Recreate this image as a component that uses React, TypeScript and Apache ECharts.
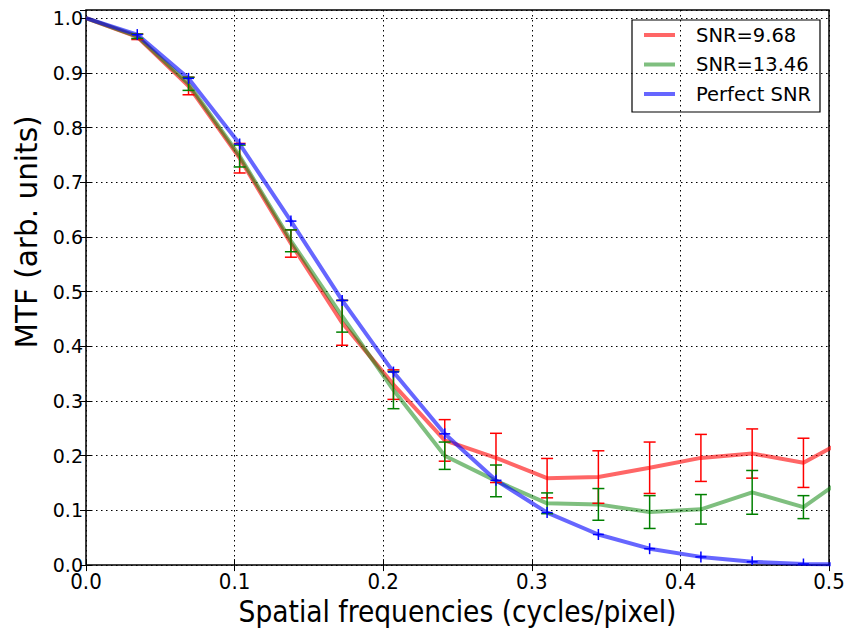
import React, { useEffect, useRef } from "react";
import * as echarts from "echarts";

// Spatial frequencies (cycles/pixel)
const frequencies = [
  0, 0.0345, 0.069, 0.1034, 0.1379, 0.1724, 0.2069, 0.2414, 0.2759, 0.3103,
  0.3448, 0.3793, 0.4138, 0.4483, 0.4828, 0.5172,
];

// SNR = 9.68
const mtfSnr968 = [
  1.0, 0.966, 0.876, 0.744, 0.588, 0.443, 0.33, 0.228, 0.196, 0.159, 0.161,
  0.178, 0.196, 0.204, 0.187, 0.238,
];
const errSnr968 = [
  0, 0.005, 0.016, 0.027, 0.025, 0.041, 0.027, 0.038, 0.045, 0.036, 0.048,
  0.047, 0.043, 0.045, 0.045, 0.045,
];

// SNR = 13.46
const mtfSnr1346 = [
  1.0, 0.967, 0.88, 0.748, 0.593, 0.455, 0.32, 0.2, 0.154, 0.113, 0.111,
  0.097, 0.102, 0.133, 0.106, 0.172,
];
const errSnr1346 = [
  0, 0.004, 0.012, 0.02, 0.02, 0.029, 0.034, 0.025, 0.029, 0.019, 0.029,
  0.03, 0.027, 0.04, 0.021, 0.03,
];

// Perfect SNR
const mtfPerfect = [
  1.0, 0.97, 0.89, 0.77, 0.629, 0.484, 0.353, 0.24, 0.155, 0.096, 0.056,
  0.03, 0.015, 0.006, 0.002, 0.001,
];

const seriesNames = ["SNR=9.68", "SNR=13.46", "Perfect SNR"];
const xTicks = [0, 0.1, 0.2, 0.3, 0.4, 0.5];
const xTitle = "Spatial frequencies (cycles/pixel)";
const yTitle = "MTF (arb. units)";

const RED_LINE = "rgba(255,0,0,0.6)";
const GREEN_LINE = "rgba(0,128,0,0.5)";
const BLUE_LINE = "rgba(0,0,255,0.6)";
const RED = "#ff0000";
const GREEN = "#008000";
const BLUE = "#0000ff";

const REG = "'DejaVu Sans', 'Bitstream Vera Sans', sans-serif";
const COND = "'DejaVu Sans Condensed', 'DejaVu Sans', sans-serif";

const X_MAX = xTicks[xTicks.length - 1];

function pairs(ys: number[]) {
  return frequencies.map((f, i) => [f, ys[i]]);
}

function errData(ys: number[], es: number[]) {
  return frequencies
    .map((f, i) => [f, ys[i], es[i]])
    .filter((d) => d[0] <= X_MAX && d[2] > 0);
}

function errorBarRender(color: string) {
  return (params: any, api: any) => {
    const x = api.value(0);
    const y = api.value(1);
    const e = api.value(2);
    const top = api.coord([x, y + e]);
    const bot = api.coord([x, y - e]);
    const hw = 6;
    const st = { stroke: color, lineWidth: 1.5 };
    return {
      type: "group",
      children: [
        { type: "line", shape: { x1: top[0], y1: top[1], x2: bot[0], y2: bot[1] }, style: st },
        { type: "line", shape: { x1: top[0] - hw, y1: top[1], x2: top[0] + hw, y2: top[1] }, style: st },
        { type: "line", shape: { x1: bot[0] - hw, y1: bot[1], x2: bot[0] + hw, y2: bot[1] }, style: st },
      ],
    };
  };
}

function plusRender(color: string) {
  return (params: any, api: any) => {
    const p = api.coord([api.value(0), api.value(1)]);
    const h = 5.5;
    const st = { stroke: color, lineWidth: 1.5 };
    return {
      type: "group",
      children: [
        { type: "line", shape: { x1: p[0] - h, y1: p[1], x2: p[0] + h, y2: p[1] }, style: st },
        { type: "line", shape: { x1: p[0], y1: p[1] - h, x2: p[0], y2: p[1] + h }, style: st },
      ],
    };
  };
}

export default function App() {
  const ref = useRef<HTMLDivElement>(null);

  useEffect(() => {
    document.body.style.margin = "0";
    document.documentElement.style.overflow = "hidden";
    document.body.style.overflow = "hidden";
    if (!ref.current) return;
    const chart = echarts.init(ref.current, undefined, { renderer: "svg" });

    const gridLeft = 86;
    const gridTop = 10;
    const gridRight = 21;
    const gridBottom = 66;

    const tickBase = {
      show: true,
      inside: true,
      length: 6,
      lineStyle: { color: "#000", width: 1 },
    };

    const legendColors = [RED_LINE, GREEN_LINE, BLUE_LINE];
    const legendLeft = 632;
    const legendTop = 20;
    const legendChildren: any[] = [
      {
        type: "rect",
        shape: { x: legendLeft, y: legendTop, width: 188, height: 92 },
        style: { fill: "#fff", stroke: "#000", lineWidth: 1.2 },
      },
    ];
    seriesNames.forEach((name, i) => {
      const cy = legendTop + 15 + i * 29.5;
      legendChildren.push({
        type: "line",
        shape: { x1: legendLeft + 12, y1: cy, x2: legendLeft + 43, y2: cy },
        style: { stroke: legendColors[i], lineWidth: 4 },
      });
      legendChildren.push({
        type: "text",
        x: legendLeft + 64,
        y: cy,
        style: {
          text: name,
          font: `19.5px ${REG}`,
          fill: "#000",
          verticalAlign: "middle",
        },
      });
    });

    chart.setOption({
      animation: false,
      backgroundColor: "#fff",
      grid: {
        left: gridLeft,
        top: gridTop,
        right: gridRight,
        bottom: gridBottom,
        show: true,
        borderColor: "#000",
        borderWidth: 1.5,
        backgroundColor: "transparent",
      },
      xAxis: [
        {
          type: "value",
          min: 0,
          max: X_MAX,
          interval: 0.1,
          position: "bottom",
          name: xTitle,
          nameLocation: "middle",
          nameGap: 30,
          nameTextStyle: { fontFamily: COND, fontSize: 29.5, color: "#000" },
          axisLine: { show: false },
          axisTick: tickBase,
          axisLabel: {
            margin: 5,
            fontFamily: COND,
            fontSize: 22,
            color: "#000",
            formatter: (v: number) => v.toFixed(1),
          },
          splitLine: {
            show: true,
            lineStyle: { color: "#000", type: [1.5, 3.5], width: 1 },
          },
        },
        {
          type: "value",
          min: 0,
          max: X_MAX,
          interval: 0.1,
          position: "top",
          axisLine: { show: false },
          axisTick: tickBase,
          axisLabel: { show: false },
          splitLine: { show: false },
        },
      ],
      yAxis: [
        {
          type: "value",
          min: 0,
          max: 1.015,
          interval: 0.1,
          position: "left",
          axisLine: { show: false },
          axisTick: tickBase,
          axisLabel: {
            margin: 3,
            fontFamily: REG,
            fontSize: 19,
            color: "#000",
            showMaxLabel: false,
            formatter: (v: number) =>
              Math.abs(v * 10 - Math.round(v * 10)) > 1e-6 ? "" : v.toFixed(1),
          },
          splitLine: {
            show: true,
            lineStyle: { color: "#000", type: [1.5, 3.5], width: 1 },
          },
        },
        {
          type: "value",
          min: 0,
          max: 1.015,
          interval: 0.1,
          position: "right",
          axisLine: { show: false },
          axisTick: tickBase,
          axisLabel: { show: false },
          splitLine: { show: false },
        },
      ],
      series: [
        {
          name: seriesNames[0],
          type: "line",
          data: pairs(mtfSnr968),
          showSymbol: false,
          clip: true,
          color: RED_LINE,
          lineStyle: { color: RED_LINE, width: 4 },
          z: 2,
        },
        {
          name: seriesNames[1],
          type: "line",
          data: pairs(mtfSnr1346),
          showSymbol: false,
          clip: true,
          color: GREEN_LINE,
          lineStyle: { color: GREEN_LINE, width: 4 },
          z: 2,
        },
        {
          name: seriesNames[2],
          type: "line",
          data: pairs(mtfPerfect),
          showSymbol: false,
          clip: true,
          color: BLUE_LINE,
          lineStyle: { color: BLUE_LINE, width: 4 },
          z: 2,
        },
        {
          type: "custom",
          data: errData(mtfSnr968, errSnr968),
          renderItem: errorBarRender(RED),
          clip: true,
          z: 3,
        },
        {
          type: "custom",
          data: errData(mtfSnr1346, errSnr1346),
          renderItem: errorBarRender(GREEN),
          clip: true,
          z: 3,
        },
        {
          type: "custom",
          data: pairs(mtfPerfect).filter((d) => d[0] <= X_MAX && d[0] > 0),
          renderItem: plusRender(BLUE),
          clip: true,
          z: 4,
        },
      ],
      graphic: [
        { type: "group", z: 100, children: legendChildren },
        {
          type: "text",
          x: 27,
          y: 232,
          rotation: Math.PI / 2,
          style: {
            text: yTitle,
            font: `29.5px ${REG}`,
            fill: "#000",
            align: "center",
            verticalAlign: "middle",
          },
        },
      ],
    });

    return () => chart.dispose();
  }, []);

  return (
    <div
      ref={ref}
      style={{ position: "fixed", left: 0, top: 0, width: 850, height: 632 }}
    />
  );
}
